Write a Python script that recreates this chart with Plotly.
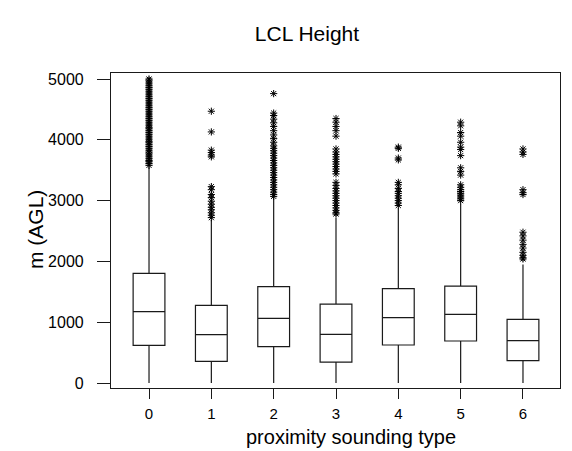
import plotly.graph_objects as go

# ---- data ----
categories = [0, 1, 2, 3, 4, 5, 6]
lower_whisker = [0, 0, 0, 0, 0, 0, 0]
q1_vals = [620, 357, 597, 345, 625, 691, 367]
median_vals = [1173, 795, 1064, 801, 1074, 1130, 696]
q3_vals = [1804, 1278, 1584, 1299, 1551, 1595, 1047]
upper_whisker = [3550, 2680, 3040, 2720, 2870, 2950, 1950]

outliers_0 = [3580, 3610, 3640, 3660, 3690, 3720, 3750, 3780, 3800, 3830, 3860, 3890,
              3920, 3950, 3970, 4000, 4030, 4060, 4090, 4120, 4150, 4180, 4200, 4230,
              4260, 4290, 4320, 4350, 4380, 4410, 4440, 4470, 4500, 4530, 4560, 4590,
              4620, 4650, 4680, 4710, 4740, 4770, 4800, 4830, 4860, 4890, 4920, 4950,
              4980, 5000]
outliers_1 = [2720, 2760, 2800, 2850, 2890, 2940, 2990, 3050, 3100, 3180, 3230,
              3720, 3750, 3790, 3830, 4130, 4470]
outliers_2 = [3070, 3100, 3140, 3180, 3220, 3260, 3300, 3340, 3380, 3420, 3460, 3500,
              3540, 3580, 3620, 3660, 3700, 3740, 3780, 3820, 3860, 3900, 3960, 4020,
              4080, 4150, 4220, 4280, 4340, 4400, 4440, 4760]
outliers_3 = [2780, 2800, 2840, 2880, 2920, 2960, 3000, 3040, 3080, 3120, 3160, 3200,
              3250, 3300, 3440, 3480, 3520, 3560, 3600, 3640, 3680, 3720, 3760, 3800,
              3850, 4060, 4150, 4220, 4290, 4350]
outliers_4 = [2920, 2960, 3000, 3040, 3080, 3120, 3150, 3200, 3260, 3300,
              3670, 3700, 3860, 3880]
outliers_5 = [3000, 3030, 3060, 3090, 3120, 3150, 3180, 3220, 3260, 3420, 3480,
              3540, 3740, 3840, 3880, 3960, 4060, 4120, 4230, 4290]
outliers_6 = [2040, 2060, 2100, 2150, 2220, 2280, 2350, 2420, 2480,
              3100, 3130, 3180, 3760, 3800, 3850]

all_outliers = [outliers_0, outliers_1, outliers_2, outliers_3,
                outliers_4, outliers_5, outliers_6]

x_ticks = [0, 1, 2, 3, 4, 5, 6]
y_ticks = [0, 1000, 2000, 3000, 4000, 5000]

title_text = "LCL Height"
x_title = "proximity sounding type"
y_title = "m (AGL)"

# ---- figure ----
LINE = "#1a1a1a"
FONT = "Arial, Liberation Sans, sans-serif"
W, H = 564, 443   # page body has an 8px margin
OFF = 8

fig = go.Figure()

fig.add_trace(go.Box(
    x=categories,
    q1=q1_vals,
    median=median_vals,
    q3=q3_vals,
    lowerfence=lower_whisker,
    upperfence=upper_whisker,
    width=0.51,
    whiskerwidth=0,
    fillcolor="white",
    line=dict(color=LINE, width=1.2),
    boxpoints=False,
    showlegend=False,
    hoverinfo="skip",
))

ox, oy = [], []
for cat, vals in zip(categories, all_outliers):
    ox.extend([cat] * len(vals))
    oy.extend(vals)

fig.add_trace(go.Scatter(
    x=ox, y=oy, mode="markers",
    marker=dict(symbol="asterisk-open", size=6, color="black",
                line=dict(color="black", width=1)),
    showlegend=False, hoverinfo="skip",
))

fig.update_layout(
    width=W, height=H,
    margin=dict(l=111 - OFF, r=12, t=73 - OFF, b=63),
    paper_bgcolor="white", plot_bgcolor="white",
    font=dict(family=FONT, color="black"),
    title=dict(text=title_text, x=(307 - OFF) / W, xanchor="center",
               y=1 - (34 - OFF) / H, yanchor="middle",
               font=dict(size=21, family=FONT, color="black")),
    annotations=[
        dict(text=x_title, xref="paper", yref="paper",
             x=(351 - 111) / 449, y=-(437 - 388) / 315,
             xanchor="center", yanchor="middle", showarrow=False,
             font=dict(size=20, family=FONT, color="black")),
        dict(text=y_title, xref="paper", yref="paper",
             x=-(111 - 35) / 449, y=(388 - 230) / 315,
             xanchor="center", yanchor="middle", showarrow=False, textangle=-90,
             font=dict(size=21, family=FONT, color="black")),
    ],
)

fig.update_xaxes(
    range=[-0.61, 6.594], tickvals=x_ticks, ticktext=[str(t) for t in x_ticks],
    showgrid=False, zeroline=False, showline=True, linecolor=LINE, linewidth=1.2,
    mirror=True, ticks="outside", ticklen=10, tickcolor=LINE, tickwidth=1.2,
    ticklabelstandoff=2,
    tickfont=dict(size=15, family=FONT, color="black"),
)
fig.update_yaxes(
    range=[-82, 5099], tickvals=y_ticks, ticktext=[str(t) for t in y_ticks],
    showgrid=False, zeroline=False, showline=True, linecolor=LINE, linewidth=1.2,
    mirror=True, ticks="outside", ticklen=13, tickcolor=LINE, tickwidth=1.2,
    ticklabelstandoff=10,
    tickfont=dict(size=16, family=FONT, color="black"),
)

fig.write_html("out.html")
